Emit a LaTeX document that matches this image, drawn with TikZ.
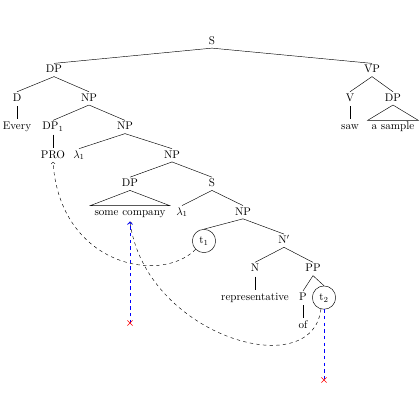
\documentclass[tikz,border=0pt]{standalone}
\usetikzlibrary{shapes.misc}
\begin{document}
\begin{tikzpicture}[x=0.031667cm,y=-0.031667cm,
  lbl/.style={inner xsep=2pt, inner ysep=2pt, text height=1.5ex, text depth=.25ex},
  trace/.style={lbl, draw, circle, minimum size=21pt, inner sep=0pt},
  roof/.style={lbl, inner xsep=3.5pt},
  branch/.style={line width=0.4pt},
  stem/.style={line width=0.8pt, shorten <=1pt, shorten >=1pt},
  move/.style={dashed, ->, line width=0.4pt},
  probe/.style={blue, dashed, line width=0.9pt},
  crossmark/.style={cross out, draw=red, line width=0.6pt, minimum size=4pt, inner sep=0pt}]
\useasboundingbox (0,0) rectangle (420,420);

% tree labels
\node[lbl] (S)      at (212,41.5)  {S};
\node[lbl] (DPa)    at (54,70)     {DP};
\node[lbl] (VP)     at (372,70)    {VP};
\node[lbl] (D)      at (17,98.4)   {D};
\node[lbl] (NPa)    at (89,98.4)   {NP};
\node[lbl] (V)      at (350,98.4)  {V};
\node[lbl] (DPb)    at (393,98.4)  {DP};
\node[lbl] (every)  at (17,127)    {Every};
\node[lbl] (DPone)  at (53,127)    {DP$_1$};
\node[lbl] (NPb)    at (125,127)   {NP};
\node[lbl] (saw)    at (350,127)   {saw};
\node[roof] (sample) at (393,127)  {a sample};
\node[lbl] (PRO)    at (53,155.3)  {PRO};
\node[lbl] (lamA)   at (79,155.3)  {$\lambda_1$};
\node[lbl] (NPc)    at (172,155.3) {NP};
\node[lbl] (DPc)    at (130,183.8) {DP};
\node[lbl] (Sb)     at (212,183.8) {S};
\node[roof] (company) at (130,212.2) {some company};
\node[lbl] (lamB)   at (182,212.2) {$\lambda_1$};
\node[lbl] (NPd)    at (243,212.2) {NP};
\node[trace] (t1)   at (204,241)   {t$_1$};
\node[lbl] (Nbar)   at (284,240.7) {N$'$};
\node[lbl] (N)      at (255,269)   {N};
\node[lbl] (PP)     at (313,269)   {PP};
\node[lbl] (rep)    at (255,297.6) {representative};
\node[lbl] (P)      at (303,297.6) {P};
\node[trace] (t2)   at (324,297.6) {t$_2$};
\node[lbl] (of)     at (303,326)   {of};

% branches
\foreach \a/\b in {S/DPa, S/VP, DPa/D, DPa/NPa, NPa/DPone, NPa/NPb,
                   NPb/lamA, NPb/NPc, NPc/DPc, NPc/Sb, Sb/lamB, Sb/NPd,
                   NPd/t1, NPd/Nbar, Nbar/N, Nbar/PP, PP/P, PP/t2,
                   VP/V, VP/DPb}
  \draw[branch] (\a.south) -- (\b.north);

% unary stems to words
\foreach \a/\b in {D/every, DPone/PRO, V/saw, N/rep, P/of}
  \draw[stem] (\a.south) -- (\b.north);

% roofs over unanalysed phrases
\draw[branch] (DPc.south) -- (company.north west) -- (company.north east) -- cycle;
\draw[branch] (DPb.south) -- (sample.north west) -- (sample.north east) -- cycle;

% movement arrows
\coordinate (cs) at ([yshift=-2.5pt]company.south);
\draw[move] (t1.225) .. controls (160,285) and (60,265) .. (PRO.south);
\draw[move] (t2.255) .. controls (312,385) and (145,335) .. (cs);

% probes and their failed origins
\coordinate (x1) at (130,323);
\coordinate (x2) at (324,380);
\draw[probe,->] (x1) -- (cs);
\draw[probe] (t2.south) -- (x2);
\node[crossmark] (c1) at (x1) {};
\node[crossmark] (c2) at (x2) {};
\end{tikzpicture}
\end{document}
